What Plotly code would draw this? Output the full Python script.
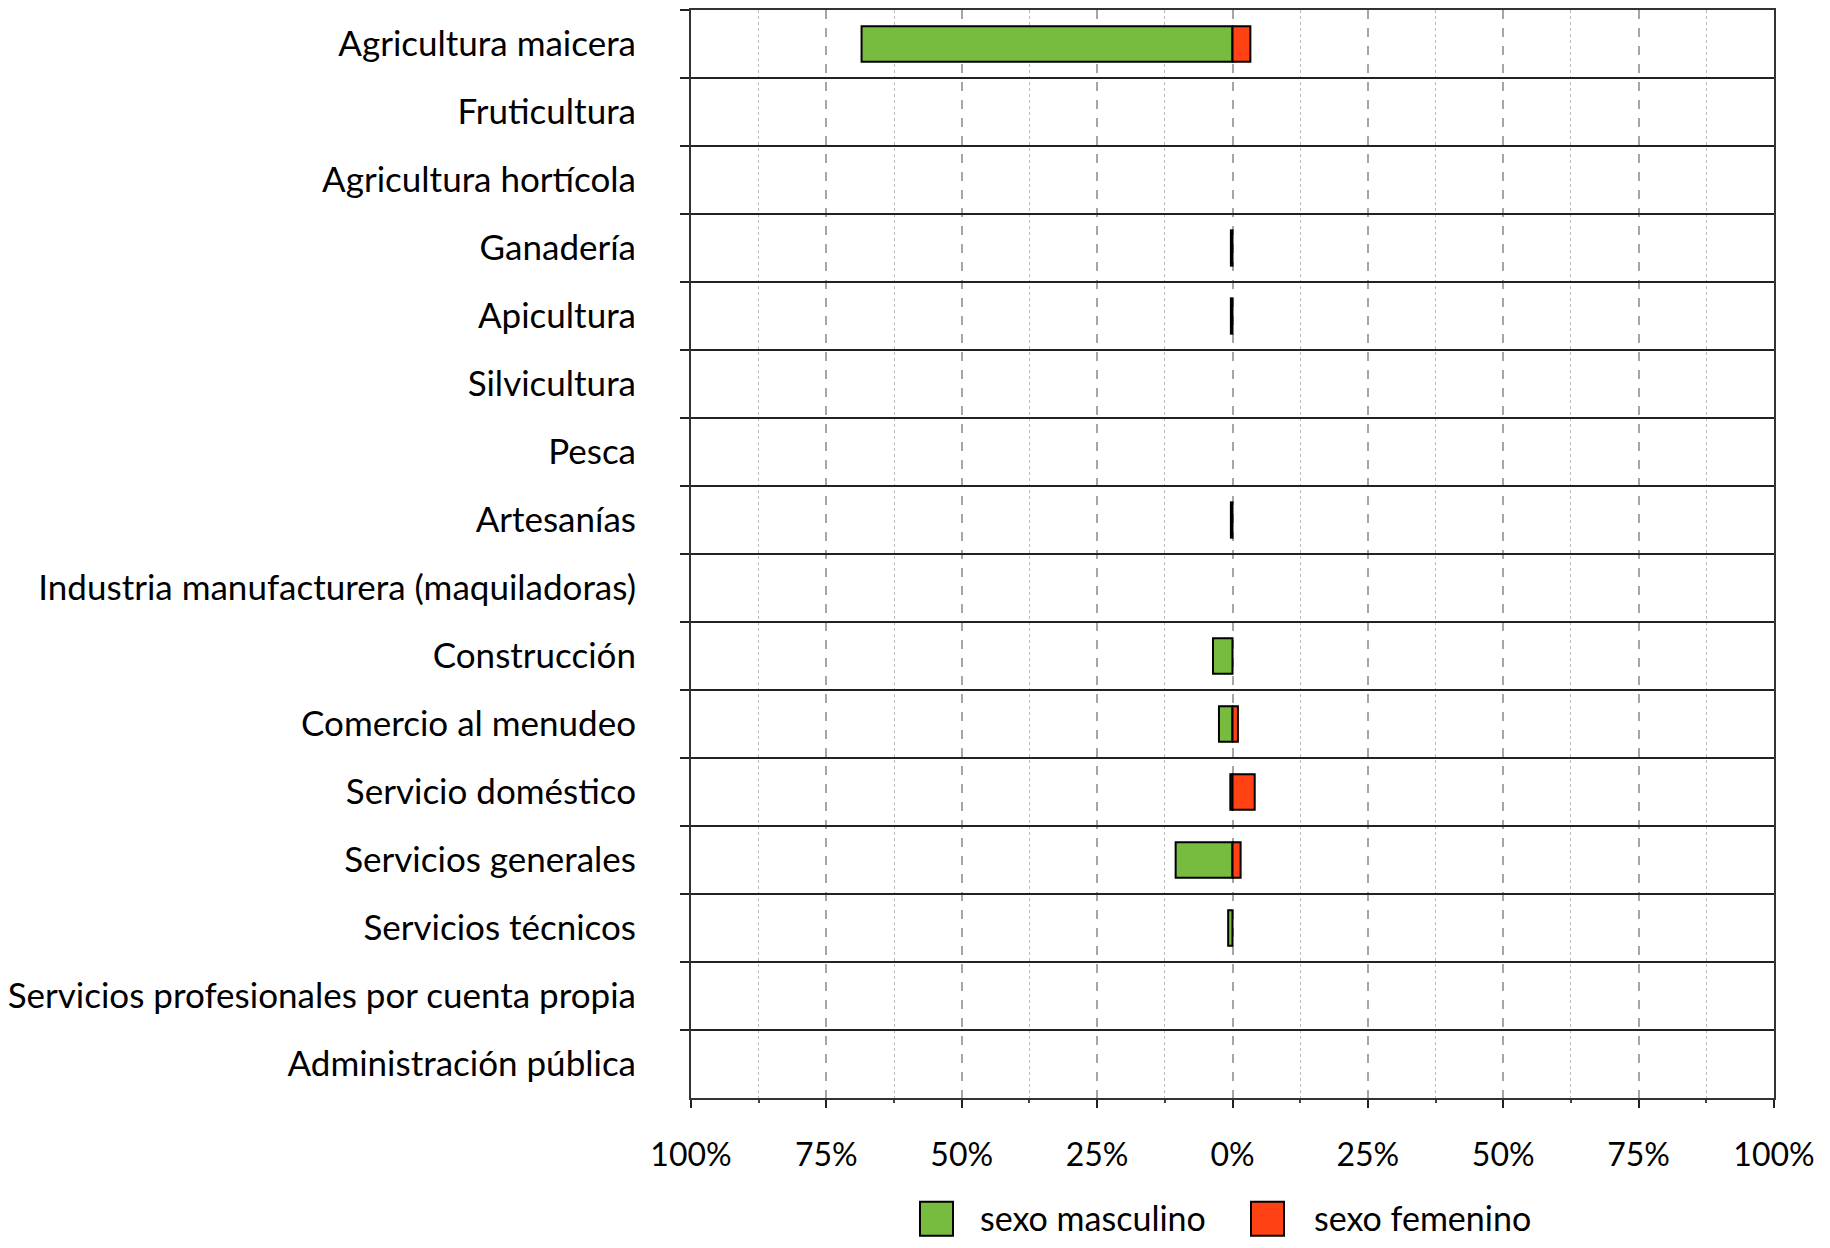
import plotly.graph_objects as go

categories = [
    "Agricultura maicera", "Fruticultura", "Agricultura hortícola", "Ganadería",
    "Apicultura", "Silvicultura", "Pesca", "Artesanías",
    "Industria manufacturera (maquiladoras)", "Construcción", "Comercio al menudeo",
    "Servicio doméstico", "Servicios generales", "Servicios técnicos",
    "Servicios profesionales por cuenta propia", "Administración pública",
]
masculino = [68.5, 0, 0, 0.3, 0.3, 0, 0, 0.3, 0, 3.6, 2.5, 0.4, 10.5, 0.8, 0, 0]
femenino = [3.3, 0, 0, 0, 0, 0, 0, 0, 0, 0, 1.0, 4.1, 1.5, 0, 0, 0]

major_ticks = [-100, -75, -50, -25, 0, 25, 50, 75, 100]
major_labels = ["100%", "75%", "50%", "25%", "0%", "25%", "50%", "75%", "100%"]
minor_ticks = [-87.5, -62.5, -37.5, -12.5, 12.5, 37.5, 62.5, 87.5]

GREEN = "#77BB3F"
RED = "#FF4114"
FONT = "Lato"

fig = go.Figure()
fig.add_trace(go.Bar(
    y=categories, x=[-v if v else None for v in masculino], orientation="h",
    name="sexo masculino",
    marker=dict(color=GREEN, line=dict(color="black", width=2)), showlegend=False,
))
fig.add_trace(go.Bar(
    y=categories, x=[v if v else None for v in femenino], orientation="h",
    name="sexo femenino",
    marker=dict(color=RED, line=dict(color="black", width=2)), showlegend=False,
))

# page has an 8px body margin; figure sized to fit the 1830x1248 window
OFF = 8
W, H = 1830 - 2 * OFF, 1248 - 2 * OFF
# plot area in page pixels
L, R, T, B = 691, 1774, 8, 1098
fl, fr, ft, fb = L - OFF, R - OFF, T - OFF, B - OFF

fig.update_layout(
    width=W, height=H,
    margin=dict(l=fl, r=W - fr, t=ft, b=H - fb, pad=0),
    paper_bgcolor="white", plot_bgcolor="white",
    barmode="relative", bargap=0.48,
    font=dict(family=FONT, size=35, color="black"),
)
fig.update_xaxes(
    range=[-100, 100], tickvals=major_ticks, ticktext=major_labels,
    showgrid=True, gridcolor="#A6A6A6", gridwidth=2, griddash="dash",
    showline=True, linecolor="#333333", linewidth=2, mirror=True,
    ticks="outside", ticklen=8, tickwidth=2, tickcolor="#222222",
    tickfont=dict(family=FONT, size=32, color="black"),
    ticklabelstandoff=20, zeroline=False,
    minor=dict(tickvals=minor_ticks, showgrid=True, gridcolor="#BBBBBB", gridwidth=1,
               griddash="dot", ticks="outside", ticklen=3, tickcolor="#444444"),
)
fig.update_yaxes(
    categoryorder="array", categoryarray=categories, autorange="reversed",
    tickson="boundaries", showgrid=True, gridcolor="#222222", gridwidth=1.5,
    showline=True, linecolor="#333333", linewidth=2, mirror=True,
    ticks="outside", ticklen=9, tickwidth=2, tickcolor="#222222",
    tickfont=dict(family=FONT, size=35, color="black"),
    ticklabelstandoff=46,
)

# custom legend (paper coordinates, computed from page pixels)
pw, ph = R - L, B - T
def px_x(v):
    return (v - L) / pw
def px_y(v):
    return (B - v) / ph

legend_items = [("sexo masculino", GREEN, 920, 978), ("sexo femenino", RED, 1251, 1312)]
for label, color, bx, tx in legend_items:
    fig.add_shape(type="rect", xref="paper", yref="paper",
                  x0=px_x(bx), x1=px_x(bx + 33), y0=px_y(1236), y1=px_y(1202),
                  fillcolor=color, line=dict(color="black", width=2))
    fig.add_annotation(text=label, xref="paper", yref="paper", x=px_x(tx), y=px_y(1218),
                       xanchor="left", yanchor="middle", showarrow=False,
                       font=dict(family=FONT, size=34, color="black"))

fig.write_html("out.html")
